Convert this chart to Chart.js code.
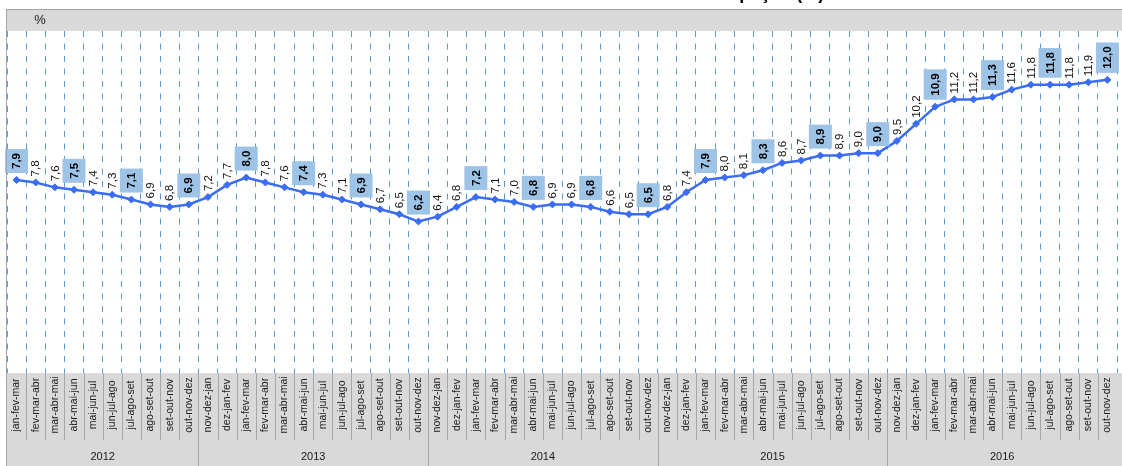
<!DOCTYPE html>
<html>

<head>
    <meta charset="utf-8">
    <title>Taxa de desocupação</title>
    <script src="https://cdn.jsdelivr.net/npm/chart.js"></script>
    <style>
        body {
            margin: 0;
            padding: 0;
            background-color: #ffffff;
        }

        .chart-box {
            width: 1122px;
            height: 466px;
        }
    </style>
</head>

<body>
    <div class="chart-box">
        <canvas id="taxaChart" width="1122" height="466"></canvas>
    </div>

    <script>
        // Moving quarters (trimestres móveis), 2012 - 2016
        const periods = [
            'jan-fev-mar', 'fev-mar-abr', 'mar-abr-mai', 'abr-mai-jun', 'mai-jun-jul', 'jun-jul-ago', 'jul-ago-set', 'ago-set-out', 'set-out-nov', 'out-nov-dez',
            'nov-dez-jan', 'dez-jan-fev', 'jan-fev-mar', 'fev-mar-abr', 'mar-abr-mai', 'abr-mai-jun', 'mai-jun-jul', 'jun-jul-ago', 'jul-ago-set', 'ago-set-out', 'set-out-nov', 'out-nov-dez',
            'nov-dez-jan', 'dez-jan-fev', 'jan-fev-mar', 'fev-mar-abr', 'mar-abr-mai', 'abr-mai-jun', 'mai-jun-jul', 'jun-jul-ago', 'jul-ago-set', 'ago-set-out', 'set-out-nov', 'out-nov-dez',
            'nov-dez-jan', 'dez-jan-fev', 'jan-fev-mar', 'fev-mar-abr', 'mar-abr-mai', 'abr-mai-jun', 'mai-jun-jul', 'jun-jul-ago', 'jul-ago-set', 'ago-set-out', 'set-out-nov', 'out-nov-dez',
            'nov-dez-jan', 'dez-jan-fev', 'jan-fev-mar', 'fev-mar-abr', 'mar-abr-mai', 'abr-mai-jun', 'mai-jun-jul', 'jun-jul-ago', 'jul-ago-set', 'ago-set-out', 'set-out-nov', 'out-nov-dez'
        ];

        // Unemployment rate (%)
        const rates = [
            7.9, 7.8, 7.6, 7.5, 7.4, 7.3, 7.1, 6.9, 6.8, 6.9,
            7.2, 7.7, 8.0, 7.8, 7.6, 7.4, 7.3, 7.1, 6.9, 6.7, 6.5, 6.2,
            6.4, 6.8, 7.2, 7.1, 7.0, 6.8, 6.9, 6.9, 6.8, 6.6, 6.5, 6.5,
            6.8, 7.4, 7.9, 8.0, 8.1, 8.3, 8.6, 8.7, 8.9, 8.9, 9.0, 9.0,
            9.5, 10.2, 10.9, 11.2, 11.2, 11.3, 11.6, 11.8, 11.8, 11.8, 11.9, 12.0
        ];

        const years = ['2012', '2013', '2014', '2015', '2016'];
        const periodsPerYear = [10, 12, 12, 12, 12];

        const unitLabel = '%';
        const titleText = 'Taxa de desocupação (%)';

        const lineBlue = '#3a6cf4';
        const boxBlue = '#9dc3e6';
        const bandGray = '#d9d9d9';
        const frameGray = '#a6a6a6';
        const fontFamily = '"Liberation Sans", Arial, sans-serif';

        function fmt(v) {
            return v.toFixed(1).replace('.', ',');
        }

        // Background bands, frame and the two-level category axis
        const framePlugin = {
            id: 'frame',
            beforeDraw(chart) {
                const { ctx, chartArea: a, width, height } = chart;
                ctx.save();
                ctx.fillStyle = '#ffffff';
                ctx.fillRect(0, 0, width, height);
                ctx.fillStyle = bandGray;
                ctx.fillRect(a.left, 10, width - a.left, a.top - 10);
                ctx.fillRect(a.left, a.bottom, width - a.left, height - a.bottom);
                ctx.restore();
            },
            afterDraw(chart) {
                const { ctx, chartArea: a, width, height } = chart;
                const xScale = chart.scales.x;
                const step = xScale.getPixelForValue(1) - xScale.getPixelForValue(0);

                ctx.save();

                // title (sits above the visible area, only its descenders show)
                ctx.fillStyle = '#000000';
                ctx.font = 'bold 18px ' + fontFamily;
                ctx.textAlign = 'center';
                ctx.textBaseline = 'alphabetic';
                ctx.fillText(titleText, 715, -1);

                // frame
                ctx.strokeStyle = frameGray;
                ctx.lineWidth = 1;
                ctx.beginPath();
                ctx.moveTo(6, 9.5);
                ctx.lineTo(width, 9.5);
                ctx.moveTo(6.5, 9);
                ctx.lineTo(6.5, height);
                ctx.stroke();

                // unit
                ctx.fillStyle = '#222222';
                ctx.font = '13px ' + fontFamily;
                ctx.textAlign = 'center';
                ctx.textBaseline = 'middle';
                ctx.fillText(unitLabel, 40, 20);

                // category separators
                const yearEnds = [];
                let acc = 0;
                periodsPerYear.forEach(n => { acc += n; yearEnds.push(acc); });
                ctx.strokeStyle = frameGray;
                ctx.beginPath();
                for (let i = 1; i < periods.length; i++) {
                    const bx = Math.round(xScale.getPixelForValue(i) - step / 2) + 0.5;
                    ctx.moveTo(bx, a.bottom);
                    ctx.lineTo(bx, yearEnds.includes(i) ? height : 440);
                }
                ctx.stroke();

                // period labels
                ctx.fillStyle = '#1a1a1a';
                ctx.font = '10.5px ' + fontFamily;
                periods.forEach((p, i) => {
                    ctx.save();
                    ctx.translate(xScale.getPixelForValue(i), 405);
                    ctx.rotate(-Math.PI / 2);
                    ctx.textAlign = 'center';
                    ctx.textBaseline = 'middle';
                    ctx.fillText(p, 0, 0);
                    ctx.restore();
                });

                // year labels
                ctx.font = '11px ' + fontFamily;
                let start = 0;
                years.forEach((y, k) => {
                    const end = start + periodsPerYear[k] - 1;
                    const cx = (xScale.getPixelForValue(start) + xScale.getPixelForValue(end)) / 2;
                    ctx.fillText(y, cx, 457);
                    start = end + 1;
                });

                ctx.restore();
            }
        };

        // Value labels above each point; quarter closes get a box
        const labelPlugin = {
            id: 'pointLabels',
            afterDatasetsDraw(chart) {
                const ctx = chart.ctx;
                const meta = chart.getDatasetMeta(0);
                meta.data.forEach((pt, i) => {
                    const txt = fmt(rates[i]);
                    const bold = i % 3 === 0;
                    ctx.save();
                    ctx.translate(pt.x, pt.y);
                    ctx.rotate(-Math.PI / 2);
                    ctx.font = (bold ? 'bold ' : '') + '11.5px ' + fontFamily;
                    ctx.textAlign = 'left';
                    ctx.textBaseline = 'middle';
                    const w = ctx.measureText(txt).width;
                    if (bold) {
                        ctx.fillStyle = boxBlue;
                        ctx.fillRect(7, -11.5, w + 8, 23);
                        ctx.fillStyle = '#000000';
                        ctx.fillText(txt, 11, 0.5);
                    } else {
                        ctx.fillStyle = '#111111';
                        ctx.fillText(txt, 6, 0.5);
                    }
                    ctx.restore();
                });
            }
        };

        new Chart(document.getElementById('taxaChart'), {
            type: 'line',
            data: {
                labels: periods,
                datasets: [{
                    data: rates,
                    borderColor: lineBlue,
                    backgroundColor: lineBlue,
                    borderWidth: 2.5,
                    pointStyle: 'rectRot',
                    pointRadius: 3.5,
                    pointBorderWidth: 1,
                    tension: 0
                }]
            },
            options: {
                responsive: false,
                animation: false,
                layout: {
                    padding: { top: 31, left: 7, right: 0, bottom: 0 }
                },
                plugins: {
                    legend: { display: false },
                    tooltip: { enabled: false },
                    title: { display: false }
                },
                scales: {
                    x: {
                        offset: true,
                        grid: {
                            offset: true,
                            color: '#5b9bd5',
                            lineWidth: 1,
                            drawTicks: false
                        },
                        border: { display: false, dash: [6, 6.5] },
                        ticks: { display: false },
                        afterFit(scale) {
                            scale.height = 93;
                        }
                    },
                    y: {
                        display: false,
                        min: 0,
                        max: 14
                    }
                }
            },
            plugins: [framePlugin, labelPlugin]
        });
    </script>
</body>

</html>
